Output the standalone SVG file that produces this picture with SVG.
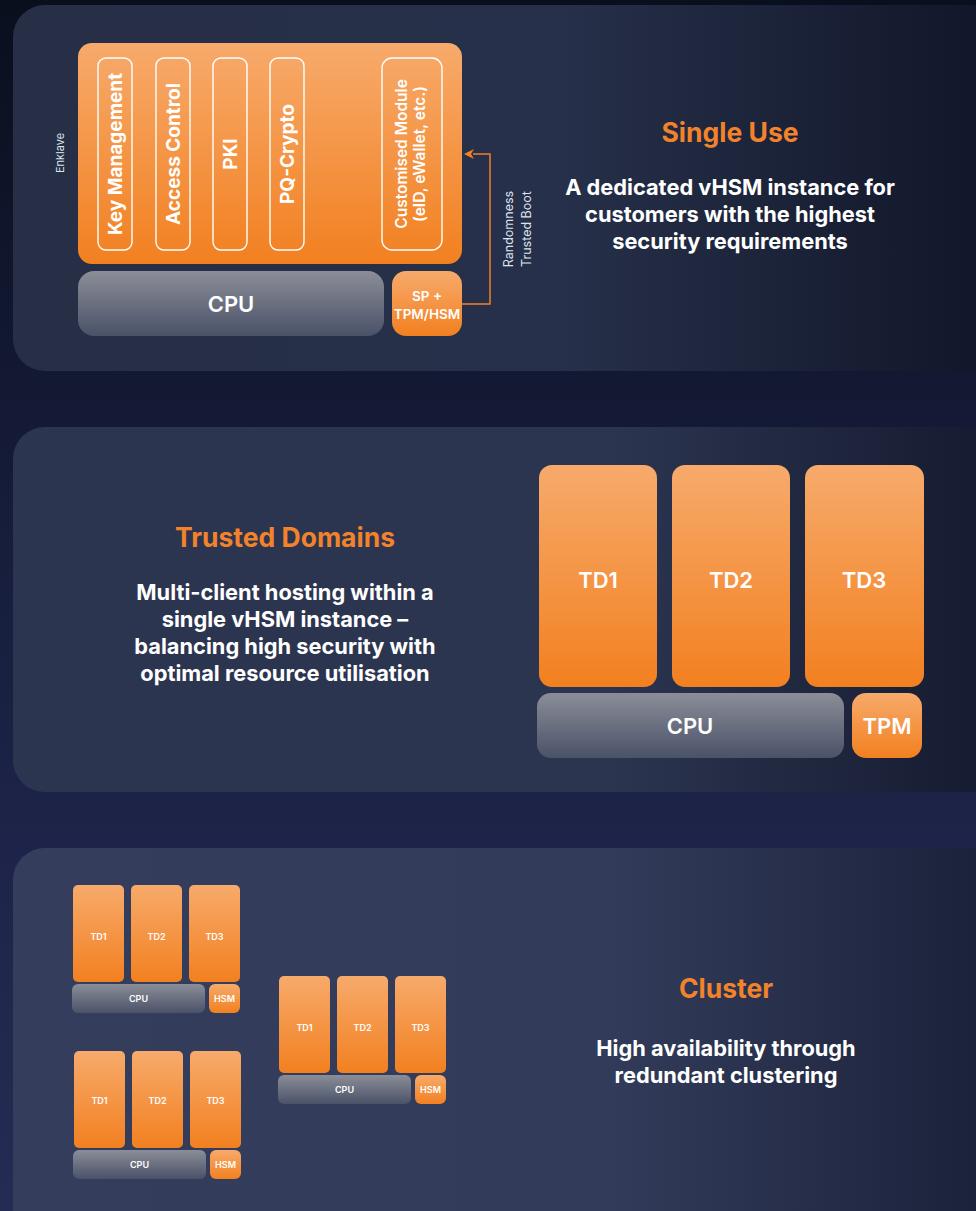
<svg xmlns="http://www.w3.org/2000/svg" width="976" height="1211" viewBox="0 0 976 1211">
  <defs>
    <linearGradient id="bg" x1="0" y1="0" x2="0" y2="1">
      <stop offset="0" stop-color="#0a0f1e"/>
      <stop offset="0.35" stop-color="#141a35"/>
      <stop offset="0.7" stop-color="#1e2449"/>
      <stop offset="1" stop-color="#252b52"/>
    </linearGradient>
    <linearGradient id="panel1" x1="0" y1="0" x2="1" y2="0">
      <stop offset="0" stop-color="#262f46"/>
      <stop offset="0.55" stop-color="#27304a"/>
      <stop offset="1" stop-color="#101628"/>
    </linearGradient>
    <linearGradient id="panel2" x1="0" y1="0" x2="1" y2="0">
      <stop offset="0" stop-color="#2c3550"/>
      <stop offset="0.6" stop-color="#2c3550"/>
      <stop offset="1" stop-color="#141a2f"/>
    </linearGradient>
    <linearGradient id="panel3" x1="0" y1="0" x2="1" y2="0">
      <stop offset="0" stop-color="#343e5c"/>
      <stop offset="0.6" stop-color="#323c5a"/>
      <stop offset="1" stop-color="#1a2039"/>
    </linearGradient>
    <linearGradient id="orange" x1="0" y1="0" x2="0" y2="1">
      <stop offset="0" stop-color="#f7aa6b"/>
      <stop offset="1" stop-color="#f28020"/>
    </linearGradient>
    <linearGradient id="grey" x1="0" y1="0" x2="0" y2="1">
      <stop offset="0" stop-color="#8b8e98"/>
      <stop offset="1" stop-color="#4a5268"/>
    </linearGradient>
    <marker id="arrowhead" viewBox="0 0 10 10" refX="1" refY="5" markerWidth="10" markerHeight="10" markerUnits="userSpaceOnUse" orient="auto">
      <path d="M0,0 L10,5 L0,10 L3,5 z" fill="#f08124"/>
    </marker>
  </defs>
  <style>
    .orange { fill: url(#orange); }
    .grey { fill: url(#grey); }
    .module { fill: none; stroke: #ffffff; stroke-width: 1.4; }
    .lbl { fill: #ffffff; font-family: Inter, "Liberation Sans", sans-serif; font-weight: 600; text-anchor: middle; dominant-baseline: central; }
    .mod { font-size: 19px; font-weight: 700; }
    .big { font-size: 22px; }
    .mini { font-size: 9px; }
    .title { fill: #f2832b; font-family: Inter, "Liberation Sans", sans-serif; font-weight: 700; font-size: 26.5px; text-anchor: middle; }
    .body { fill: #ffffff; font-family: Inter, "Liberation Sans", sans-serif; font-weight: 700; font-size: 21.8px; text-anchor: middle; }
    .note { fill: #dfe2ea; font-family: Inter, "Liberation Sans", sans-serif; font-size: 12.5px; text-anchor: middle; dominant-baseline: central; }
    .conn { fill: none; stroke: #f08124; stroke-width: 1.5; }
  </style>

  <rect width="976" height="1211" fill="url(#bg)"/>

  <!-- panels -->
  <rect x="13" y="5" width="990" height="366" rx="32" fill="url(#panel1)"/>
  <rect x="13" y="427" width="990" height="365" rx="32" fill="url(#panel2)"/>
  <rect x="13" y="848" width="990" height="400" rx="32" fill="url(#panel3)"/>

  <!-- Single Use -->
  <g id="enclave">
    <rect x="78" y="43" width="384" height="221" rx="14" class="orange"/>
    <text class="note" style="font-size:11px" transform="translate(60,153) rotate(-90)">Enklave</text>
  </g>
  <g id="key-management">
    <rect x="98" y="58" width="34" height="192" rx="8" class="module"/>
    <text class="lbl mod" transform="translate(115,154) rotate(-90)">Key Management</text>
  </g>
  <g id="access-control">
    <rect x="156" y="58" width="34" height="192" rx="8" class="module"/>
    <text class="lbl mod" transform="translate(173,154) rotate(-90)">Access Control</text>
  </g>
  <g id="pki">
    <rect x="213" y="58" width="34" height="192" rx="8" class="module"/>
    <text class="lbl mod" transform="translate(230,154) rotate(-90)">PKI</text>
  </g>
  <g id="pq-crypto">
    <rect x="270" y="58" width="34" height="192" rx="8" class="module"/>
    <text class="lbl mod" transform="translate(287,154) rotate(-90)">PQ-Crypto</text>
  </g>
  <g id="custom-module">
    <rect x="382" y="58" width="60" height="192" rx="10" class="module"/>
    <text class="lbl" style="font-size:15.5px" transform="translate(401,154) rotate(-90)">Customised Module</text>
    <text class="lbl" style="font-size:15.5px" transform="translate(419,154) rotate(-90)">(eID, eWallet, etc.)</text>
  </g>
  <g id="cpu-single">
    <rect x="78" y="271" width="306" height="65" rx="16" class="grey"/>
    <text class="lbl big" x="231" y="304">CPU</text>
  </g>
  <g id="sp-tpm-hsm">
    <rect x="392" y="271" width="70" height="65" rx="14" class="orange"/>
    <text class="lbl" style="font-size:13.5px" x="427" y="296">SP +</text>
    <text class="lbl" style="font-size:13.5px" x="427" y="314">TPM/HSM</text>
  </g>
  <g id="connectors">
    <path class="conn" d="M462,304 H490 V154 H473" marker-end="url(#arrowhead)"/>
    <text class="note" transform="translate(508,229) rotate(-90)">Randomness</text>
    <text class="note" transform="translate(526,229) rotate(-90)">Trusted Boot</text>
  </g>
  <g id="single-use-text">
    <text class="title" x="730" y="142">Single Use</text>
    <text class="body" x="730" y="195">A dedicated vHSM instance for</text>
    <text class="body" x="730" y="222">customers with the highest</text>
    <text class="body" x="730" y="249">security requirements</text>
  </g>

  <!-- Trusted Domains -->
  <g id="trusted-domains-text">
    <text class="title" x="285" y="547">Trusted Domains</text>
    <text class="body" x="285" y="600">Multi-client hosting within a</text>
    <text class="body" x="285" y="627">single vHSM instance –</text>
    <text class="body" x="285" y="654">balancing high security with</text>
    <text class="body" x="285" y="681">optimal resource utilisation</text>
  </g>
  <g id="td1">
    <rect x="539" y="465" width="118" height="222" rx="13" class="orange"/>
    <text class="lbl big" x="598" y="580">TD1</text>
  </g>
  <g id="td2">
    <rect x="672" y="465" width="118" height="222" rx="13" class="orange"/>
    <text class="lbl big" x="731" y="580">TD2</text>
  </g>
  <g id="td3">
    <rect x="805" y="465" width="119" height="222" rx="13" class="orange"/>
    <text class="lbl big" x="864" y="580">TD3</text>
  </g>
  <g id="cpu-td">
    <rect x="537" y="693" width="307" height="65" rx="14" class="grey"/>
    <text class="lbl big" x="690" y="726">CPU</text>
  </g>
  <g id="tpm">
    <rect x="852" y="693" width="70" height="65" rx="14" class="orange"/>
    <text class="lbl big" x="887" y="726">TPM</text>
  </g>

  <!-- Cluster -->
  <g id="cluster-text">
    <text class="title" x="726" y="998">Cluster</text>
    <text class="body" x="726" y="1056">High availability through</text>
    <text class="body" x="726" y="1083">redundant clustering</text>
  </g>
  <g id="node-a" transform="translate(73,885)">
    <rect x="0" y="0" width="51" height="97" rx="5" class="orange"/>
    <rect x="58" y="0" width="51" height="97" rx="5" class="orange"/>
    <rect x="116" y="0" width="51" height="97" rx="5" class="orange"/>
    <rect x="-1" y="99" width="133" height="29" rx="6" class="grey"/>
    <rect x="136" y="99" width="31" height="29" rx="6" class="orange"/>
    <text class="lbl mini" x="25.5" y="51">TD1</text>
    <text class="lbl mini" x="83.5" y="51">TD2</text>
    <text class="lbl mini" x="141.5" y="51">TD3</text>
    <text class="lbl mini" x="65.5" y="113.5">CPU</text>
    <text class="lbl mini" x="151.5" y="113.5">HSM</text>
  </g>
  <g id="node-b" transform="translate(279,976)">
    <rect x="0" y="0" width="51" height="97" rx="5" class="orange"/>
    <rect x="58" y="0" width="51" height="97" rx="5" class="orange"/>
    <rect x="116" y="0" width="51" height="97" rx="5" class="orange"/>
    <rect x="-1" y="99" width="133" height="29" rx="6" class="grey"/>
    <rect x="136" y="99" width="31" height="29" rx="6" class="orange"/>
    <text class="lbl mini" x="25.5" y="51">TD1</text>
    <text class="lbl mini" x="83.5" y="51">TD2</text>
    <text class="lbl mini" x="141.5" y="51">TD3</text>
    <text class="lbl mini" x="65.5" y="113.5">CPU</text>
    <text class="lbl mini" x="151.5" y="113.5">HSM</text>
  </g>
  <g id="node-c" transform="translate(74,1051)">
    <rect x="0" y="0" width="51" height="97" rx="5" class="orange"/>
    <rect x="58" y="0" width="51" height="97" rx="5" class="orange"/>
    <rect x="116" y="0" width="51" height="97" rx="5" class="orange"/>
    <rect x="-1" y="99" width="133" height="29" rx="6" class="grey"/>
    <rect x="136" y="99" width="31" height="29" rx="6" class="orange"/>
    <text class="lbl mini" x="25.5" y="49">TD1</text>
    <text class="lbl mini" x="83.5" y="49">TD2</text>
    <text class="lbl mini" x="141.5" y="49">TD3</text>
    <text class="lbl mini" x="65.5" y="113.5">CPU</text>
    <text class="lbl mini" x="151.5" y="113.5">HSM</text>
  </g>
</svg>
